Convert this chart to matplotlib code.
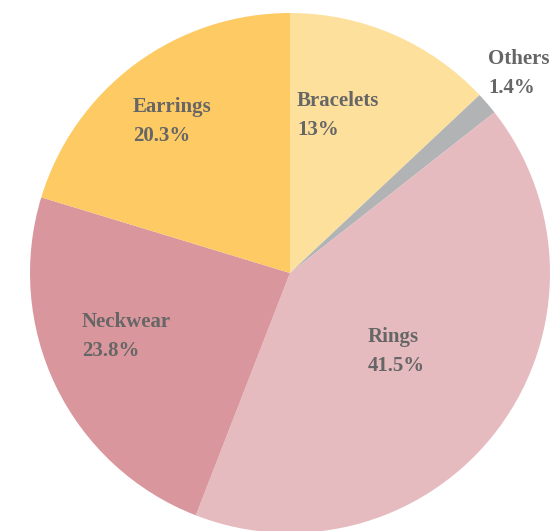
import matplotlib.pyplot as plt

# jewellery sales share, clockwise from 12 o'clock
categories = ['Bracelets', 'Others', 'Rings', 'Neckwear', 'Earrings']
shares = [13, 1.4, 41.5, 23.8, 20.3]
colors = ['#FDE09C', '#B1B3B5', '#E6BBBF', '#D9979D', '#FDCA64']

# label anchors in pixels (left x, baseline of first line)
label_pos = {
    'Bracelets': (297, 106),
    'Others': (488, 64),
    'Rings': (368, 342),
    'Neckwear': (82, 327),
    'Earrings': (133, 112),
}

W, H = 555, 531
fig = plt.figure(figsize=(W / 100, H / 100), dpi=100)
ax = fig.add_axes([0, 0, 1, 1])
ax.set_xlim(0, W)
ax.set_ylim(0, H)
ax.axis('off')

ax.pie(shares, colors=colors, startangle=90, counterclock=False,
       center=(290, H - 273), radius=260, frame=True,
       wedgeprops=dict(linewidth=0))
ax.set_xlim(0, W)
ax.set_ylim(0, H)
ax.axis('off')

txt = dict(family='Liberation Serif', fontweight='bold', fontsize=15,
           color='#666666', ha='left', va='baseline')
for name, val in zip(categories, shares):
    x, y = label_pos[name]
    ax.text(x, H - y, name, **txt)
    ax.text(x, H - y - 29, f'{val:g}%', **txt)

fig.savefig('out.png', dpi=100)
